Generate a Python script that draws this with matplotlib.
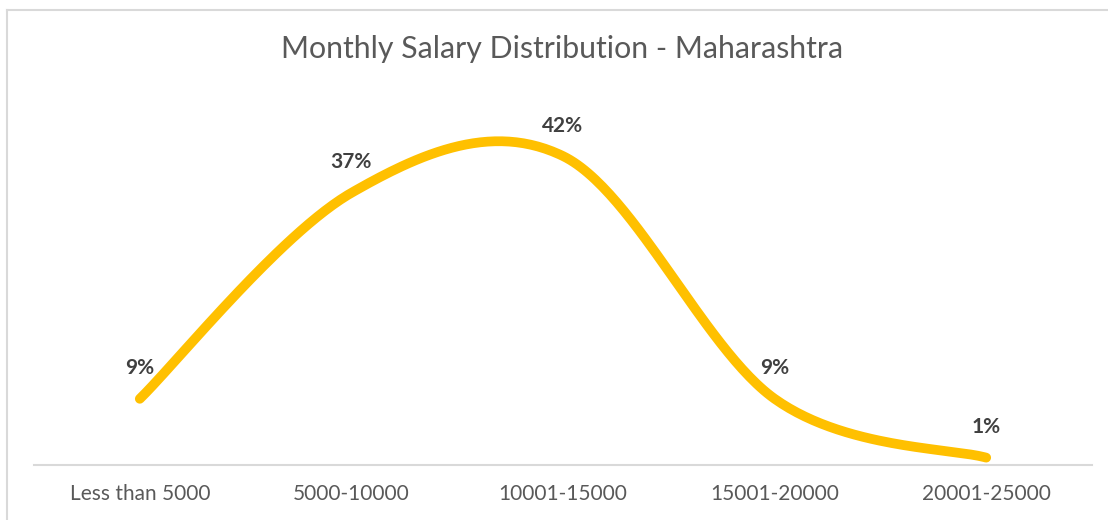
import numpy as np
import matplotlib
matplotlib.use("Agg")
import matplotlib.pyplot as plt
from matplotlib.lines import Line2D

categories = ["Less than 5000", "5000-10000", "10001-15000", "15001-20000", "20001-25000"]
values = [9, 37, 42, 9, 1]
labels = ["9%", "37%", "42%", "9%", "1%"]
title = "Monthly Salary Distribution - Maharashtra"

W, H = 1108, 520
fig = plt.figure(figsize=(W / 100, H / 100), dpi=100)
fig.patch.set_facecolor("white")

# axes placement (pixels)
x_left, x_right = 34, 1092
y_base, y_top = 465, 134
ax = fig.add_axes([x_left / W, (H - y_base) / H, (x_right - x_left) / W, (y_base - y_top) / H])
ax.set_xlim(-0.5, len(categories) - 0.5)
ax.set_ylim(0, 45)


def catmull_rom(xs, ys, n=60):
    pts = np.column_stack([xs, ys]).astype(float)
    ext = np.vstack([pts[0], pts, pts[-1]])
    out = []
    t = np.linspace(0, 1, n)[:, None]
    for i in range(1, len(ext) - 2):
        p0, p1, p2, p3 = ext[i - 1], ext[i], ext[i + 1], ext[i + 2]
        c1 = p1 + (p2 - p0) / 6.0
        c2 = p2 - (p3 - p1) / 6.0
        seg = ((1 - t) ** 3) * p1 + 3 * ((1 - t) ** 2) * t * c1 + 3 * (1 - t) * t ** 2 * c2 + t ** 3 * p2
        out.append(seg if i == 1 else seg[1:])
    out = np.vstack(out)
    return out[:, 0], out[:, 1]


xs = np.arange(len(categories))
sx, sy = catmull_rom(xs, values)
ax.plot(sx, sy, color="#FFC000", lw=7.0, solid_capstyle="round", solid_joinstyle="round", clip_on=False)

for x, v, lab in zip(xs, values, labels):
    ax.annotate(lab, (x, v), xytext=(0, 22), textcoords="offset points",
                ha="center", va="center", fontsize=15, fontweight="bold",
                color="#404040", family="Lato")

for s in ["top", "right", "left"]:
    ax.spines[s].set_visible(False)
ax.spines["bottom"].set_color("#D9D9D9")
ax.spines["bottom"].set_linewidth(1.5)
ax.set_yticks([])
ax.set_xticks(xs)
ax.set_xticklabels(categories, fontsize=15, color="#595959", family="Lato")
ax.tick_params(axis="x", length=0, pad=14)

fig.text(562 / W, 1 - 49 / H, title, ha="center", va="center", fontsize=21.8,
         color="#595959", family="Lato")

# chart-area border (partially visible)
fig.add_artist(Line2D([7 / W, 7 / W], [0, 1 - 10 / H], transform=fig.transFigure, color="#D9D9D9", lw=1.5))
fig.add_artist(Line2D([7 / W, 1], [1 - 10 / H, 1 - 10 / H], transform=fig.transFigure, color="#D9D9D9", lw=1.5))

fig.savefig("out.png", dpi=100, facecolor="white")
